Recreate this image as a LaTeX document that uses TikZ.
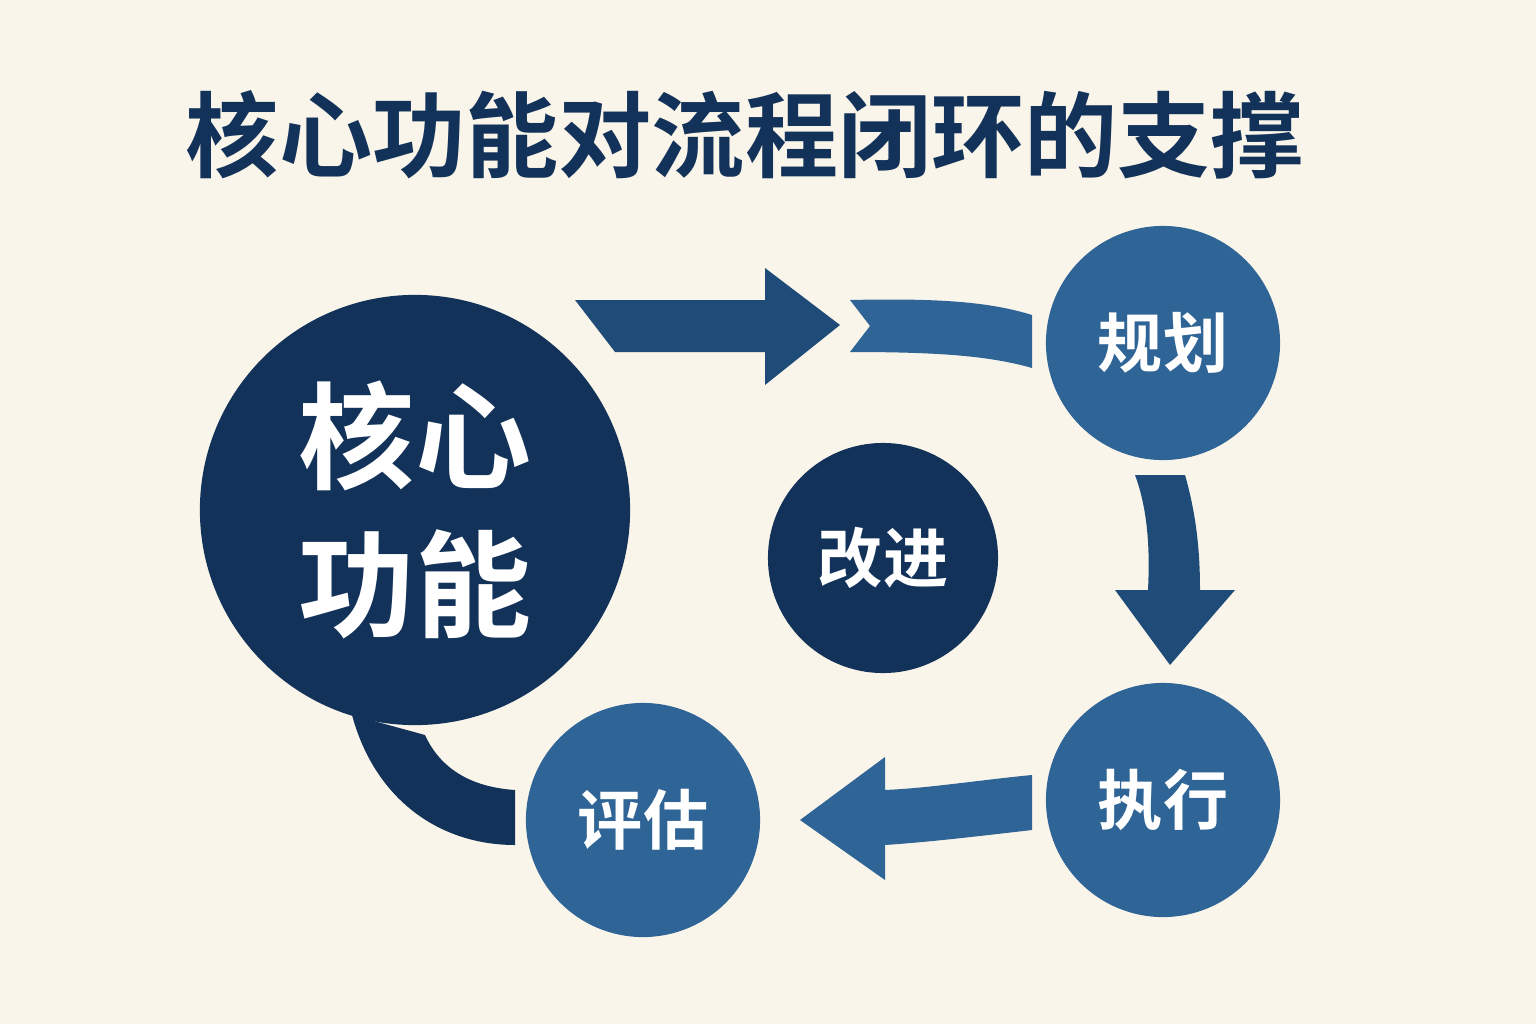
\documentclass[tikz,border=0pt]{standalone}
\usepackage{fontspec}
\newfontfamily\cjk{Noto Sans CJK SC}[BoldFont={Noto Sans CJK SC Bold}]
\definecolor{bgcream}{HTML}{FAF5EA}
\definecolor{navy}{HTML}{13325A}
\definecolor{midblue}{HTML}{1F4B79}
\definecolor{stepblue}{HTML}{2F6496}
\tikzset{
  stepnode/.style={circle, fill=stepblue, minimum size=2.34cm, inner sep=0pt, text=white, font=\cjk\bfseries\fontsize{18.5}{20}\selectfont},
  corenode/.style={circle, fill=navy, inner sep=0pt, text=white},
}
\begin{document}
\begin{tikzpicture}[x=0.01cm, y=-0.01cm]
\fill[bgcream] (0,0) rectangle (1536,1024);
\useasboundingbox (0,0) rectangle (1536,1024);
% title
\node[text=navy, font=\cjk\bfseries\fontsize{26.5}{30}\selectfont] (title) at (745,135) {核心功能对流程闭环的支撑};
% tail of the core circle
\fill[navy] (352,715) .. controls (375,800) and (440,845) .. (515,845) -- (515,790) .. controls (470,787) and (440,768) .. (425,735) -- cycle;
% circles
\node[corenode, minimum size=4.3cm, font=\cjk\bfseries\fontsize{33}{42}\selectfont, align=center] (core) at (415,510) {核心\\功能};
\node[corenode, minimum size=2.3cm, font=\cjk\bfseries\fontsize{18.5}{20}\selectfont] (improve) at (883,558) {改进};
\node[stepnode] (plan) at (1163,343) {规划};
\node[stepnode] (exec) at (1163,800) {执行};
\node[stepnode] (eval) at (643,820) {评估};
% arrows
\fill[midblue] (575,300) -- (765,300) -- (765,268) -- (840,325) -- (765,385) -- (765,352) -- (615,352) -- cycle;
\fill[stepblue] (850,300) .. controls (940,298) and (990,302) .. (1032,315) -- (1032,368) .. controls (990,356) and (940,352) .. (850,352) -- (870,326) -- cycle;
\fill[midblue] (1135,475) -- (1185,475) .. controls (1198,520) and (1200,560) .. (1200,590) -- (1235,590) -- (1170,665) -- (1115,590) -- (1148,590) .. controls (1150,550) and (1148,510) .. (1135,475) -- cycle;
\fill[stepblue] (1032,775) .. controls (980,780) and (930,788) .. (885,790) -- (885,757) -- (800,820) -- (885,880) -- (885,845) .. controls (930,842) and (980,836) .. (1032,830) -- cycle;
\end{tikzpicture}
\end{document}
